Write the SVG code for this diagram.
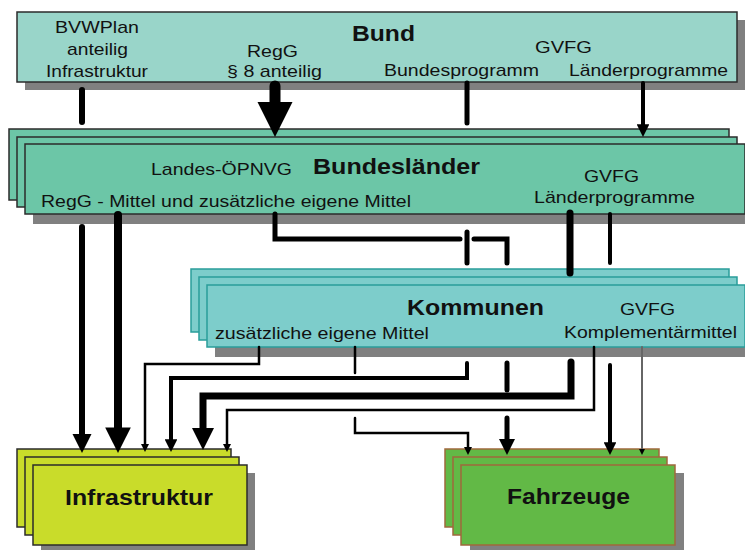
<svg xmlns="http://www.w3.org/2000/svg" width="745" height="550" viewBox="0 0 745 550">
<style>
text{font-family:"Liberation Sans",Arial,sans-serif;fill:#111;}
.r{font-size:17px;}
.b{font-size:22px;font-weight:bold;}
.sh{fill:#808080;}
.bund{fill:#99d5c9;stroke:#2b2b2b;stroke-width:1.5;}
.land{fill:#6cc6a7;stroke:#2b2b2b;stroke-width:1.5;}
.komm{fill:#7dcdcb;stroke:#2a9d9a;stroke-width:1.5;}
.infra{fill:#c9dc2a;stroke:#2b2b2b;stroke-width:1.5;}
.fahr{fill:#62b946;stroke:#a0683c;stroke-width:1.5;}
.c{fill:none;stroke:#000;stroke-linecap:round;stroke-linejoin:miter;}
.a{marker-end:url(#ah);}
</style>
<defs>
<marker id="ah" viewBox="0 0 10 10" markerWidth="3.2" markerHeight="3.2" refX="0.5" refY="5" orient="auto" markerUnits="strokeWidth">
<path d="M0,0 L10,5 L0,10 z" fill="#000"/>
</marker>
</defs>

<g id="bund">
<rect class="sh" x="25" y="20" width="720" height="70"/>
<rect class="bund" x="17" y="12" width="720" height="70"/>
<text class="r" x="55" y="33" textLength="84" lengthAdjust="spacingAndGlyphs">BVWPlan</text>
<text class="r" x="67" y="55" textLength="61" lengthAdjust="spacingAndGlyphs">anteilig</text>
<text class="r" x="46" y="77" textLength="102" lengthAdjust="spacingAndGlyphs">Infrastruktur</text>
<text class="r" x="247" y="57" textLength="51" lengthAdjust="spacingAndGlyphs">RegG</text>
<text class="r" x="227" y="77" textLength="95" lengthAdjust="spacingAndGlyphs">§ 8 anteilig</text>
<text class="b" x="352" y="41" textLength="63" lengthAdjust="spacingAndGlyphs">Bund</text>
<text class="r" x="535" y="53" textLength="57" lengthAdjust="spacingAndGlyphs">GVFG</text>
<text class="r" x="384" y="76" textLength="155" lengthAdjust="spacingAndGlyphs">Bundesprogramm</text>
<text class="r" x="569" y="76" textLength="159" lengthAdjust="spacingAndGlyphs">Länderprogramme</text>
</g>

<g id="bundeslaender">
<rect class="land" x="9" y="129" width="720" height="71"/>
<rect class="land" x="17" y="137" width="720" height="70"/>
<rect class="sh" x="33" y="154" width="720" height="70"/>
<rect class="land" x="25" y="144" width="720" height="70"/>
<text class="r" x="151" y="175" textLength="141" lengthAdjust="spacingAndGlyphs">Landes-ÖPNVG</text>
<text class="b" x="313" y="174" textLength="167" lengthAdjust="spacingAndGlyphs">Bundesländer</text>
<text class="r" x="41" y="207" textLength="370" lengthAdjust="spacingAndGlyphs">RegG - Mittel und zusätzliche eigene Mittel</text>
<text class="r" x="584" y="182" textLength="55" lengthAdjust="spacingAndGlyphs">GVFG</text>
<text class="r" x="534" y="203" textLength="161" lengthAdjust="spacingAndGlyphs">Länderprogramme</text>
</g>

<g id="kommunen">
<rect class="komm" x="191" y="269" width="538" height="63"/>
<rect class="komm" x="199" y="277" width="538" height="63"/>
<rect class="sh" x="215" y="294" width="538" height="63"/>
<rect class="komm" x="207" y="285" width="538" height="62"/>
<text class="b" x="407" y="315" textLength="137" lengthAdjust="spacingAndGlyphs">Kommunen</text>
<text class="r" x="620" y="315" textLength="55" lengthAdjust="spacingAndGlyphs">GVFG</text>
<text class="r" x="564" y="338" textLength="173" lengthAdjust="spacingAndGlyphs">Komplementärmittel</text>
<text class="r" x="215" y="339" textLength="214" lengthAdjust="spacingAndGlyphs">zusätzliche eigene Mittel</text>
</g>

<g id="infrastruktur">
<rect class="infra" x="17" y="449" width="214" height="78"/>
<rect class="infra" x="25" y="457" width="214" height="78"/>
<rect class="sh" x="41" y="473" width="214" height="80"/>
<rect class="infra" x="33" y="465" width="214" height="80"/>
<text class="b" x="65" y="505" textLength="148" lengthAdjust="spacingAndGlyphs">Infrastruktur</text>
</g>

<g id="fahrzeuge">
<rect class="fahr" x="445" y="449" width="214" height="78"/>
<rect class="fahr" x="453" y="457" width="214" height="78"/>
<rect class="sh" x="470" y="473" width="214" height="80"/>
<rect class="fahr" x="461" y="465" width="214" height="80"/>
<text class="b" x="507" y="504" textLength="123" lengthAdjust="spacingAndGlyphs">Fahrzeuge</text>
</g>

<g id="connectors">
<path class="c" d="M82,90 V122" stroke-width="6"/>
<path class="c a" d="M275,86 V103.6" stroke-width="11"/>
<path class="c" d="M467,83 V123" stroke-width="5"/>
<path class="c a" d="M643,83 V124.8" stroke-width="4"/>
<path class="c a" d="M82,227 V434.8" stroke-width="6"/>
<path class="c a" d="M118,215 V428.7" stroke-width="8"/>
<path class="c" d="M275,214 V239 H460" stroke-width="5"/>
<path class="c" d="M474,239 H507 V263" stroke-width="5"/>
<path class="c" d="M467,232 V263" stroke-width="5"/>
<path class="c" d="M570,213 V273" stroke-width="7"/>
<path class="c" d="M610,214 V263" stroke-width="4"/>
<path class="c a" d="M259,347 V364 H145 V444.4" stroke-width="2.5"/>
<path class="c a" d="M467,363 V378 H171 V439.8" stroke-width="4"/>
<path class="c a" d="M571,362 V396 H203 V428.7" stroke-width="7"/>
<path class="c a" d="M594,347 V410 H227 V444.4" stroke-width="2.5"/>
<path class="c" d="M507,363 V390" stroke-width="5"/>
<path class="c a" d="M507,418 V439.8" stroke-width="5"/>
<path class="c" d="M355,347 V373" stroke-width="2.5"/>
<path class="c a" d="M355,418 V433 H468 V447.4" stroke-width="2.5"/>
<path class="c a" d="M610,365 V442.8" stroke-width="4"/>
<path class="c a" d="M642,347 V448.9" stroke-width="2" style="stroke:#666"/>
</g>
</svg>
